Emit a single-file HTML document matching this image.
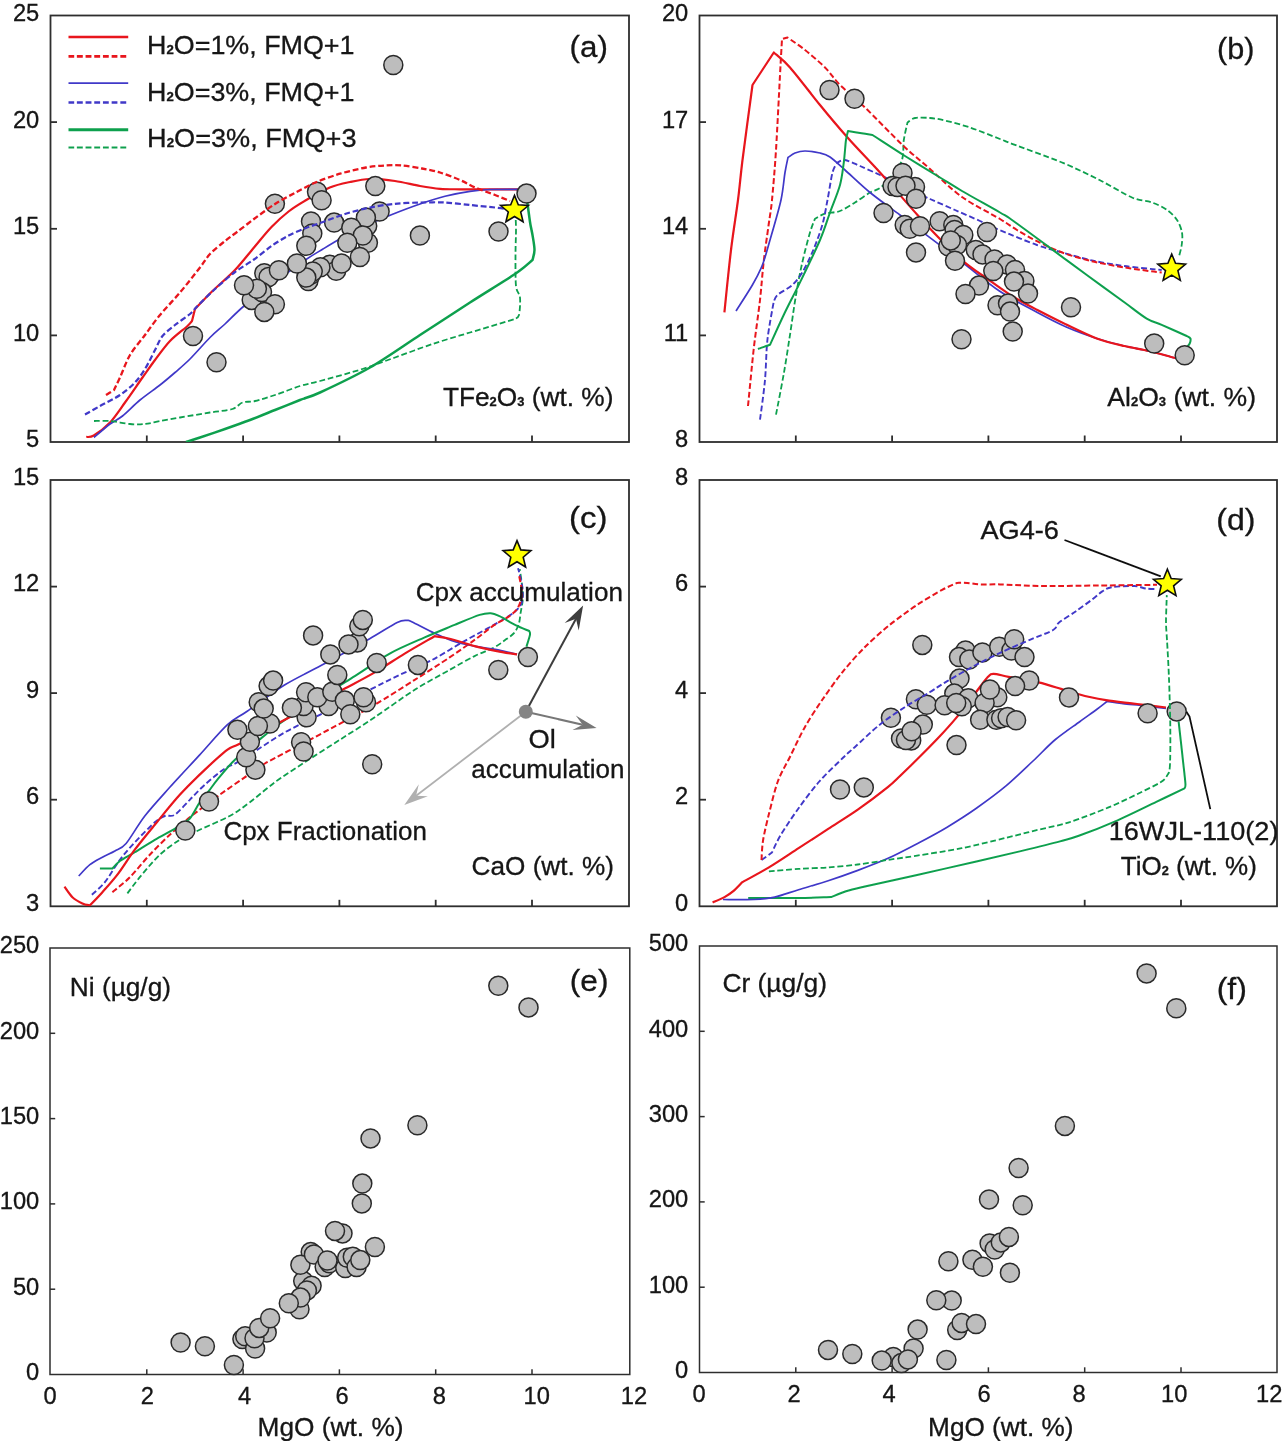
<!DOCTYPE html>
<html><head><meta charset="utf-8"><title>Chart</title>
<style>
html,body{margin:0;padding:0;background:#fff}
svg{display:block}
text{font-family:"Liberation Sans",sans-serif;fill:#141414;stroke:#141414;stroke-width:0.3px}
</style></head><body>
<svg width="1282" height="1444" viewBox="0 0 1282 1444">
<defs><clipPath id="ca"><rect x="50.5" y="15.5" width="578.5" height="426.5"/></clipPath><clipPath id="cb"><rect x="699.5" y="15.5" width="577.5" height="426.5"/></clipPath><clipPath id="cc"><rect x="50.5" y="480.0" width="578.5" height="426.3"/></clipPath><clipPath id="cd"><rect x="699.5" y="480.0" width="577.5" height="426.3"/></clipPath><filter id="bl" x="0" y="0" width="1282" height="1444" filterUnits="userSpaceOnUse"><feGaussianBlur stdDeviation="0.6"/></filter></defs>
<rect width="1282" height="1444" fill="#fff"/>
<g filter="url(#bl)">
<g stroke="#2e2e2e" stroke-width="1.8" fill="none"><rect x="50.5" y="15.5" width="578.5" height="426.5"/><line x1="146.8" y1="442.0" x2="146.8" y2="435.5"/><line x1="243.1" y1="442.0" x2="243.1" y2="435.5"/><line x1="339.4" y1="442.0" x2="339.4" y2="435.5"/><line x1="435.7" y1="442.0" x2="435.7" y2="435.5"/><line x1="532.0" y1="442.0" x2="532.0" y2="435.5"/><line x1="50.5" y1="122.1" x2="57.0" y2="122.1"/><line x1="50.5" y1="228.8" x2="57.0" y2="228.8"/><line x1="50.5" y1="335.4" x2="57.0" y2="335.4"/></g>
<g stroke="#2e2e2e" stroke-width="1.8" fill="none"><rect x="699.5" y="15.5" width="577.5" height="426.5"/><line x1="795.8" y1="442.0" x2="795.8" y2="435.5"/><line x1="892.1" y1="442.0" x2="892.1" y2="435.5"/><line x1="988.4" y1="442.0" x2="988.4" y2="435.5"/><line x1="1084.7" y1="442.0" x2="1084.7" y2="435.5"/><line x1="1181.0" y1="442.0" x2="1181.0" y2="435.5"/><line x1="699.5" y1="122.1" x2="706.0" y2="122.1"/><line x1="699.5" y1="228.8" x2="706.0" y2="228.8"/><line x1="699.5" y1="335.4" x2="706.0" y2="335.4"/></g>
<g stroke="#2e2e2e" stroke-width="1.8" fill="none"><rect x="50.5" y="480.0" width="578.5" height="426.3"/><line x1="146.8" y1="906.3" x2="146.8" y2="899.8"/><line x1="243.1" y1="906.3" x2="243.1" y2="899.8"/><line x1="339.4" y1="906.3" x2="339.4" y2="899.8"/><line x1="435.7" y1="906.3" x2="435.7" y2="899.8"/><line x1="532.0" y1="906.3" x2="532.0" y2="899.8"/><line x1="50.5" y1="586.6" x2="57.0" y2="586.6"/><line x1="50.5" y1="693.1" x2="57.0" y2="693.1"/><line x1="50.5" y1="799.7" x2="57.0" y2="799.7"/></g>
<g stroke="#2e2e2e" stroke-width="1.8" fill="none"><rect x="699.5" y="480.0" width="577.5" height="426.3"/><line x1="795.8" y1="906.3" x2="795.8" y2="899.8"/><line x1="892.1" y1="906.3" x2="892.1" y2="899.8"/><line x1="988.4" y1="906.3" x2="988.4" y2="899.8"/><line x1="1084.7" y1="906.3" x2="1084.7" y2="899.8"/><line x1="1181.0" y1="906.3" x2="1181.0" y2="899.8"/><line x1="699.5" y1="586.6" x2="706.0" y2="586.6"/><line x1="699.5" y1="693.1" x2="706.0" y2="693.1"/><line x1="699.5" y1="799.7" x2="706.0" y2="799.7"/></g>
<g stroke="#2e2e2e" stroke-width="1.5" fill="none"><rect x="50.0" y="948.0" width="579.8" height="426.5"/><line x1="146.8" y1="1374.5" x2="146.8" y2="1369.3"/><line x1="243.1" y1="1374.5" x2="243.1" y2="1369.3"/><line x1="339.4" y1="1374.5" x2="339.4" y2="1369.3"/><line x1="435.7" y1="1374.5" x2="435.7" y2="1369.3"/><line x1="532.0" y1="1374.5" x2="532.0" y2="1369.3"/><line x1="50.0" y1="1033.3" x2="55.2" y2="1033.3"/><line x1="50.0" y1="1118.6" x2="55.2" y2="1118.6"/><line x1="50.0" y1="1203.9" x2="55.2" y2="1203.9"/><line x1="50.0" y1="1289.2" x2="55.2" y2="1289.2"/></g>
<g stroke="#2e2e2e" stroke-width="1.5" fill="none"><rect x="699.5" y="946.0" width="577.5" height="426.5"/><line x1="795.8" y1="1372.5" x2="795.8" y2="1367.3"/><line x1="892.1" y1="1372.5" x2="892.1" y2="1367.3"/><line x1="988.4" y1="1372.5" x2="988.4" y2="1367.3"/><line x1="1084.7" y1="1372.5" x2="1084.7" y2="1367.3"/><line x1="1181.0" y1="1372.5" x2="1181.0" y2="1367.3"/><line x1="699.5" y1="1031.3" x2="704.7" y2="1031.3"/><line x1="699.5" y1="1116.6" x2="704.7" y2="1116.6"/><line x1="699.5" y1="1201.9" x2="704.7" y2="1201.9"/><line x1="699.5" y1="1287.2" x2="704.7" y2="1287.2"/></g>
<text transform="translate(39.3 20.9) scale(1 1)" font-size="23.7" text-anchor="end">25</text><text transform="translate(39.3 127.5) scale(1 1)" font-size="23.7" text-anchor="end">20</text><text transform="translate(39.3 234.2) scale(1 1)" font-size="23.7" text-anchor="end">15</text><text transform="translate(39.3 340.8) scale(1 1)" font-size="23.7" text-anchor="end">10</text><text transform="translate(39.3 447.4) scale(1 1)" font-size="23.7" text-anchor="end">5</text>
<text transform="translate(688.3 20.9) scale(1 1)" font-size="23.7" text-anchor="end">20</text><text transform="translate(688.3 127.5) scale(1 1)" font-size="23.7" text-anchor="end">17</text><text transform="translate(688.3 234.2) scale(1 1)" font-size="23.7" text-anchor="end">14</text><text transform="translate(688.3 340.8) scale(1 1)" font-size="23.7" text-anchor="end">11</text><text transform="translate(688.3 447.4) scale(1 1)" font-size="23.7" text-anchor="end">8</text>
<text transform="translate(39.3 484.7) scale(1 1)" font-size="23.7" text-anchor="end">15</text><text transform="translate(39.3 591.3) scale(1 1)" font-size="23.7" text-anchor="end">12</text><text transform="translate(39.3 697.9) scale(1 1)" font-size="23.7" text-anchor="end">9</text><text transform="translate(39.3 804.4) scale(1 1)" font-size="23.7" text-anchor="end">6</text><text transform="translate(39.3 911.0) scale(1 1)" font-size="23.7" text-anchor="end">3</text>
<text transform="translate(688.3 484.7) scale(1 1)" font-size="23.7" text-anchor="end">8</text><text transform="translate(688.3 591.3) scale(1 1)" font-size="23.7" text-anchor="end">6</text><text transform="translate(688.3 697.9) scale(1 1)" font-size="23.7" text-anchor="end">4</text><text transform="translate(688.3 804.4) scale(1 1)" font-size="23.7" text-anchor="end">2</text><text transform="translate(688.3 911.0) scale(1 1)" font-size="23.7" text-anchor="end">0</text>
<text transform="translate(39.3 953.4) scale(1 1)" font-size="23.7" text-anchor="end">250</text><text transform="translate(39.3 1038.7) scale(1 1)" font-size="23.7" text-anchor="end">200</text><text transform="translate(39.3 1124.0) scale(1 1)" font-size="23.7" text-anchor="end">150</text><text transform="translate(39.3 1209.3) scale(1 1)" font-size="23.7" text-anchor="end">100</text><text transform="translate(39.3 1294.6) scale(1 1)" font-size="23.7" text-anchor="end">50</text><text transform="translate(39.3 1379.9) scale(1 1)" font-size="23.7" text-anchor="end">0</text>
<text transform="translate(688.3 951.4) scale(1 1)" font-size="23.7" text-anchor="end">500</text><text transform="translate(688.3 1036.7) scale(1 1)" font-size="23.7" text-anchor="end">400</text><text transform="translate(688.3 1122.0) scale(1 1)" font-size="23.7" text-anchor="end">300</text><text transform="translate(688.3 1207.3) scale(1 1)" font-size="23.7" text-anchor="end">200</text><text transform="translate(688.3 1292.6) scale(1 1)" font-size="23.7" text-anchor="end">100</text><text transform="translate(688.3 1377.9) scale(1 1)" font-size="23.7" text-anchor="end">0</text>
<text transform="translate(50.0 1404.4) scale(1 1)" font-size="23.7" text-anchor="middle">0</text>
<text transform="translate(699.2 1402.0) scale(1 1)" font-size="23.7" text-anchor="middle">0</text>
<text transform="translate(147.3 1404.4) scale(1 1)" font-size="23.7" text-anchor="middle">2</text>
<text transform="translate(794.2 1402.0) scale(1 1)" font-size="23.7" text-anchor="middle">2</text>
<text transform="translate(244.7 1404.4) scale(1 1)" font-size="23.7" text-anchor="middle">4</text>
<text transform="translate(889.2 1402.0) scale(1 1)" font-size="23.7" text-anchor="middle">4</text>
<text transform="translate(342.0 1404.4) scale(1 1)" font-size="23.7" text-anchor="middle">6</text>
<text transform="translate(984.2 1402.0) scale(1 1)" font-size="23.7" text-anchor="middle">6</text>
<text transform="translate(439.4 1404.4) scale(1 1)" font-size="23.7" text-anchor="middle">8</text>
<text transform="translate(1079.2 1402.0) scale(1 1)" font-size="23.7" text-anchor="middle">8</text>
<text transform="translate(536.7 1404.4) scale(1 1)" font-size="23.7" text-anchor="middle">10</text>
<text transform="translate(1174.2 1402.0) scale(1 1)" font-size="23.7" text-anchor="middle">10</text>
<text transform="translate(634.0 1404.4) scale(1 1)" font-size="23.7" text-anchor="middle">12</text>
<text transform="translate(1269.2 1402.0) scale(1 1)" font-size="23.7" text-anchor="middle">12</text>
<g clip-path="url(#ca)">
<path d="M86.3 437.0C87.5 436.8 90.2 437.7 93.8 435.5C97.4 433.3 105.2 427.6 110.0 422.5C114.8 417.4 120.0 409.4 125.0 402.5C130.0 395.6 137.9 384.0 142.5 377.5C147.1 371.0 150.8 365.6 155.0 360.0C159.2 354.4 165.0 346.2 170.0 341.0C175.0 335.8 184.1 329.1 187.5 326.0C190.9 322.9 191.3 321.8 192.0 321.0C192.5 319.2 194.5 310.8 195.0 309.0C197.7 306.2 206.3 297.0 212.5 291.0C218.7 285.0 228.6 276.7 235.0 270.0C241.4 263.3 248.4 254.1 254.0 247.5C259.6 240.9 266.2 232.5 271.5 227.0C276.8 221.5 283.3 215.6 288.6 211.5C293.9 207.4 299.5 204.0 305.8 200.3C312.1 196.6 323.0 190.3 329.8 187.5C336.6 184.7 343.8 183.3 350.0 182.0C356.2 180.7 363.1 179.2 370.0 179.0C376.9 178.8 387.3 179.9 395.0 181.0C402.7 182.1 413.1 184.8 420.0 186.0C426.9 187.2 433.8 188.3 440.0 188.8C446.2 189.3 447.7 189.2 460.0 189.3C472.3 189.4 510.8 189.3 520.0 189.3" fill="none" stroke="#e8141c" stroke-width="2.2" stroke-linejoin="round"/>
<path d="M94.0 437.5C96.5 435.4 105.6 427.3 110.0 424.0C114.4 420.7 117.9 419.7 122.5 416.0C127.1 412.3 134.2 404.8 140.0 400.0C145.8 395.2 154.6 389.2 160.0 385.0C165.4 380.8 170.4 376.5 175.0 372.5C179.6 368.5 184.6 364.4 190.0 359.0C195.4 353.6 204.6 342.9 210.0 337.5C215.4 332.1 219.8 328.8 225.0 324.0C230.2 319.2 236.3 312.5 244.0 306.0C251.7 299.5 265.5 289.2 275.0 282.0C284.5 274.8 298.6 264.6 306.0 259.5C313.4 254.4 317.8 252.2 323.0 249.0C328.2 245.8 333.5 242.5 340.0 239.0C346.5 235.5 357.0 229.8 365.0 226.0C373.0 222.2 383.5 217.9 392.0 214.5C400.5 211.1 411.8 206.8 420.0 204.0C428.2 201.2 437.3 198.3 445.0 196.3C452.7 194.3 463.1 192.3 470.0 191.3C476.9 190.3 482.3 189.8 490.0 189.5C497.7 189.2 515.4 189.3 520.0 189.3" fill="none" stroke="#4038c8" stroke-width="1.7" stroke-linejoin="round"/>
<path d="M186.0 442.0C188.2 441.3 194.0 439.5 200.0 437.5C206.0 435.5 217.3 431.7 225.0 429.0C232.7 426.3 242.3 422.9 250.0 420.0C257.7 417.1 267.3 413.1 275.0 410.0C282.7 406.9 293.1 402.7 300.0 400.0C306.9 397.3 309.2 397.5 320.0 392.5C330.8 387.5 354.6 376.3 370.0 367.5C385.4 358.7 404.6 345.0 420.0 335.0C435.4 325.0 455.4 311.9 470.0 302.5C484.6 293.1 505.4 280.5 515.0 274.0C524.6 267.5 529.8 262.2 532.5 260.0C532.8 258.5 534.5 253.8 534.5 250.0C534.5 246.2 533.2 239.3 532.5 235.0C531.8 230.7 530.8 227.4 530.0 222.0C529.2 216.6 527.5 203.4 527.0 200.0" fill="none" stroke="#0ea04e" stroke-width="2.5" stroke-linejoin="round"/>
<g fill="#bdbdbd" stroke="#2a2a2a" stroke-width="1.5"><circle cx="393.3" cy="65.0" r="9.5"/><circle cx="274.9" cy="203.8" r="9.5"/><circle cx="317.0" cy="191.7" r="9.5"/><circle cx="321.6" cy="200.3" r="9.5"/><circle cx="375.3" cy="186.1" r="9.5"/><circle cx="379.6" cy="211.5" r="9.5"/><circle cx="367.2" cy="226.1" r="9.5"/><circle cx="365.9" cy="217.5" r="9.5"/><circle cx="311.0" cy="221.4" r="9.5"/><circle cx="334.1" cy="222.6" r="9.5"/><circle cx="312.3" cy="233.5" r="9.5"/><circle cx="351.3" cy="227.8" r="9.5"/><circle cx="367.9" cy="242.7" r="9.5"/><circle cx="362.8" cy="235.5" r="9.5"/><circle cx="347.3" cy="242.7" r="9.5"/><circle cx="306.3" cy="245.8" r="9.5"/><circle cx="419.9" cy="235.5" r="9.5"/><circle cx="498.5" cy="231.5" r="9.5"/><circle cx="359.9" cy="257.0" r="9.5"/><circle cx="329.8" cy="264.7" r="9.5"/><circle cx="336.2" cy="270.7" r="9.5"/><circle cx="341.5" cy="263.5" r="9.5"/><circle cx="320.4" cy="267.3" r="9.5"/><circle cx="308.4" cy="281.0" r="9.5"/><circle cx="311.0" cy="274.6" r="9.5"/><circle cx="312.7" cy="271.5" r="9.5"/><circle cx="306.3" cy="277.6" r="9.5"/><circle cx="296.9" cy="263.5" r="9.5"/><circle cx="264.3" cy="273.3" r="9.5"/><circle cx="268.6" cy="277.0" r="9.5"/><circle cx="278.9" cy="270.3" r="9.5"/><circle cx="251.7" cy="299.9" r="9.5"/><circle cx="262.0" cy="292.1" r="9.5"/><circle cx="256.9" cy="288.7" r="9.5"/><circle cx="244.0" cy="285.3" r="9.5"/><circle cx="274.9" cy="304.2" r="9.5"/><circle cx="264.3" cy="311.9" r="9.5"/><circle cx="193.0" cy="336.0" r="9.5"/><circle cx="216.5" cy="362.3" r="9.5"/><circle cx="526.5" cy="193.6" r="9.5"/></g>
<path d="M94.0 421.0C96.5 421.0 104.5 420.5 110.0 421.0C115.5 421.5 124.6 423.5 130.0 424.0C135.4 424.5 140.4 424.5 145.0 424.0C149.6 423.5 154.6 422.0 160.0 421.0C165.4 420.0 172.3 418.8 180.0 417.5C187.7 416.2 201.9 413.8 210.0 412.5C218.1 411.2 227.5 410.5 232.5 409.0C237.5 407.5 239.0 403.7 242.5 402.5C246.0 401.3 250.0 402.2 255.0 401.0C260.0 399.8 268.1 397.3 275.0 395.0C281.9 392.7 293.1 388.2 300.0 386.0C306.9 383.8 310.4 383.6 320.0 381.0C329.6 378.4 351.0 372.6 362.5 369.0C374.0 365.4 384.2 361.3 395.0 357.5C405.8 353.7 421.0 347.8 432.5 344.0C444.0 340.2 457.3 336.3 470.0 332.5C482.7 328.7 508.1 321.1 515.0 319.0C515.6 318.4 518.2 318.3 519.0 315.0C519.8 311.7 520.5 302.0 520.0 297.5C519.5 293.0 516.7 292.5 516.0 286.0C515.3 279.5 515.5 263.6 515.5 255.0C515.5 246.4 516.0 236.2 516.0 230.0C516.0 223.8 515.6 217.3 515.5 215.0" fill="none" stroke="#0ea04e" stroke-width="1.8" stroke-linejoin="round" stroke-dasharray="5.8 2.8"/>
<path d="M85.0 414.5C87.3 413.2 94.6 409.0 100.0 406.0C105.4 403.0 114.6 398.6 120.0 395.0C125.4 391.4 131.2 386.5 135.0 382.5C138.8 378.5 141.9 374.0 145.0 369.0C148.1 364.0 152.3 355.1 155.0 350.0C157.7 344.9 159.4 339.8 162.5 336.0C165.6 332.2 170.8 328.4 175.0 325.0C179.2 321.6 186.5 316.9 190.0 314.0C193.5 311.1 193.7 309.8 197.5 306.0C201.3 302.2 209.2 294.2 215.0 289.0C220.8 283.8 229.0 276.5 235.0 272.0C241.0 267.5 248.4 263.5 254.0 259.5C259.6 255.5 266.2 249.7 271.5 246.0C276.8 242.3 283.3 238.3 288.6 235.5C293.9 232.7 300.7 230.1 306.0 228.0C311.3 225.9 317.0 224.2 323.0 222.0C329.0 219.8 337.8 216.2 345.0 214.0C352.2 211.8 362.3 209.1 370.0 207.5C377.7 205.9 387.3 204.6 395.0 203.8C402.7 203.0 412.3 202.7 420.0 202.5C427.7 202.3 437.3 202.1 445.0 202.5C452.7 202.9 462.3 204.2 470.0 205.0C477.7 205.8 489.6 206.9 495.0 207.5C500.4 208.1 503.5 208.6 505.0 208.8" fill="none" stroke="#4038c8" stroke-width="2.2" stroke-linejoin="round" stroke-dasharray="5.8 2.8"/>
<path d="M106.0 395.0C107.2 394.2 112.8 390.8 114.0 390.0C114.9 388.1 117.5 382.9 120.0 377.5C122.5 372.1 126.2 361.5 130.0 355.0C133.8 348.5 140.4 341.2 145.0 335.0C149.6 328.8 154.6 321.5 160.0 315.0C165.4 308.5 173.8 299.8 180.0 292.5C186.2 285.2 195.4 273.4 200.0 267.5C204.6 261.6 206.2 258.1 210.0 254.0C213.8 249.9 220.8 244.4 225.0 241.0C229.2 237.6 232.5 235.4 237.0 232.0C241.5 228.6 248.2 223.3 254.0 219.0C259.8 214.7 268.6 208.1 275.0 204.0C281.4 199.9 289.2 195.9 295.5 192.6C301.8 189.3 309.2 185.2 316.0 182.3C322.8 179.4 332.3 176.0 340.0 173.7C347.7 171.4 359.1 168.8 366.0 167.5C372.9 166.2 379.5 165.8 385.0 165.5C390.5 165.2 396.3 165.0 402.0 165.5C407.7 166.0 416.2 167.4 422.0 168.5C427.8 169.6 434.2 170.7 440.0 172.5C445.8 174.3 454.6 177.7 460.0 180.0C465.4 182.3 469.6 185.2 475.0 187.5C480.4 189.8 489.6 192.9 495.0 195.0C500.4 197.1 507.7 200.1 510.0 201.0" fill="none" stroke="#e8141c" stroke-width="2.3" stroke-linejoin="round" stroke-dasharray="5.8 2.8"/>
<polygon points="514.5,195.4 518.3,204.7 528.4,205.5 520.7,212.0 523.1,221.8 514.5,216.5 505.9,221.8 508.3,212.0 500.6,205.5 510.7,204.7" fill="#ffff00" stroke="#111" stroke-width="1.6" stroke-linejoin="miter"/>
</g>
<path d="M68.5 37.0C77.7 37.0 119.0 37.0 128.2 37.0" fill="none" stroke="#e8141c" stroke-width="2.4" stroke-linejoin="round"/>
<path d="M68.5 56.3C77.7 56.3 119.0 56.3 128.2 56.3" fill="none" stroke="#e8141c" stroke-width="2.7" stroke-linejoin="round" stroke-dasharray="5.8 2.8"/>
<path d="M68.5 83.1C77.7 83.1 119.0 83.1 128.2 83.1" fill="none" stroke="#4038c8" stroke-width="1.9" stroke-linejoin="round"/>
<path d="M68.5 102.5C77.7 102.5 119.0 102.5 128.2 102.5" fill="none" stroke="#4038c8" stroke-width="2.6" stroke-linejoin="round" stroke-dasharray="5.8 2.8"/>
<path d="M68.5 129.7C77.7 129.7 119.0 129.7 128.2 129.7" fill="none" stroke="#0ea04e" stroke-width="3.0" stroke-linejoin="round"/>
<path d="M68.5 147.4C77.7 147.4 119.0 147.4 128.2 147.4" fill="none" stroke="#0ea04e" stroke-width="2.0" stroke-linejoin="round" stroke-dasharray="5.8 2.8"/>
<text x="147.1" y="53.6" font-size="25.5" text-anchor="start" textLength="207.4" lengthAdjust="spacingAndGlyphs">H<tspan font-size="12.5" font-weight="bold">2</tspan>O=1%, FMQ+1</text>
<text x="147.1" y="100.5" font-size="25.5" text-anchor="start" textLength="207.4" lengthAdjust="spacingAndGlyphs">H<tspan font-size="12.5" font-weight="bold">2</tspan>O=3%, FMQ+1</text>
<text x="147.1" y="147.2" font-size="25.5" text-anchor="start" textLength="209.4" lengthAdjust="spacingAndGlyphs">H<tspan font-size="12.5" font-weight="bold">2</tspan>O=3%, FMQ+3</text>
<text x="442.9" y="406.1" font-size="25.5" text-anchor="start" textLength="170.6" lengthAdjust="spacingAndGlyphs">TFe<tspan font-size="12.5" font-weight="bold">2</tspan>O<tspan font-size="12.5" font-weight="bold">3</tspan> (wt. %)</text>
<text x="569.6" y="56.7" font-size="30" text-anchor="start" textLength="38.3" lengthAdjust="spacingAndGlyphs">(a)</text>
<g clip-path="url(#cb)">
<path d="M776.0 414.7C777.2 408.5 781.4 387.0 783.6 374.7C785.8 362.4 788.1 347.1 790.0 334.8C791.9 322.5 794.1 306.1 796.0 295.0C797.9 283.9 800.1 272.0 802.3 262.4C804.5 252.8 808.0 239.2 810.0 232.5C812.0 225.8 814.2 220.8 815.0 218.7C816.5 217.9 821.2 214.9 825.0 213.7C828.8 212.5 835.4 212.7 840.0 211.0C844.6 209.3 850.4 205.3 855.0 202.5C859.6 199.7 865.8 195.0 870.0 192.5C874.2 190.0 877.7 190.6 882.5 186.0C887.3 181.4 897.7 169.6 901.0 162.5C904.3 155.4 902.8 146.2 903.8 140.0C904.8 133.8 906.9 125.2 907.5 122.5C908.7 121.8 911.5 118.7 915.0 118.0C918.5 117.3 925.4 117.6 930.0 118.0C934.6 118.4 938.8 119.0 945.0 120.5C951.2 122.0 961.5 124.7 970.0 127.5C978.5 130.3 993.5 136.5 1000.0 139.0C1006.5 141.5 1002.5 140.1 1012.0 143.8C1021.5 147.4 1048.5 156.9 1062.0 162.5C1075.5 168.1 1088.7 174.6 1099.5 180.0C1110.3 185.4 1123.9 194.0 1132.0 197.5C1140.1 201.0 1146.6 200.6 1152.0 202.5C1157.4 204.4 1163.2 207.3 1167.0 210.0C1170.8 212.7 1174.7 216.5 1177.0 220.0C1179.3 223.5 1181.3 228.7 1182.0 232.5C1182.7 236.3 1182.2 241.2 1181.7 245.0C1181.2 248.8 1179.2 255.5 1178.7 257.4" fill="none" stroke="#0ea04e" stroke-width="1.8" stroke-linejoin="round" stroke-dasharray="5.8 2.8"/>
<path d="M760.0 419.7C760.8 413.6 763.9 392.3 765.0 380.0C766.1 367.7 766.1 351.9 767.4 340.0C768.7 328.1 772.6 308.2 773.6 302.4C774.2 301.3 774.5 297.7 777.4 295.0C780.3 292.3 788.5 288.5 792.3 285.0C796.1 281.5 799.2 277.4 802.3 272.4C805.4 267.4 809.2 259.7 812.3 252.4C815.4 245.1 820.0 233.1 822.3 225.0C824.6 216.9 825.9 208.1 827.5 200.0C829.1 191.9 831.0 178.3 832.5 172.5C834.0 166.7 836.7 164.0 837.5 162.5C838.7 162.1 841.5 159.5 845.0 160.0C848.5 160.5 854.6 163.7 860.0 166.0C865.4 168.3 873.1 171.8 880.0 175.0C886.9 178.2 897.3 183.3 905.0 187.0C912.7 190.7 922.3 195.5 930.0 199.0C937.7 202.5 947.3 206.6 955.0 210.0C962.7 213.4 973.2 217.9 980.0 221.0C986.8 224.1 990.6 226.3 999.4 230.0C1008.2 233.7 1027.3 241.6 1036.9 245.0C1046.5 248.4 1053.5 250.0 1061.9 252.4C1070.3 254.8 1082.2 258.3 1091.8 260.4C1101.4 262.5 1113.5 264.5 1124.3 266.0C1135.1 267.5 1155.9 269.4 1161.7 270.0" fill="none" stroke="#4038c8" stroke-width="1.9" stroke-linejoin="round" stroke-dasharray="5.8 2.8"/>
<path d="M748.0 406.0C748.9 397.4 751.8 366.3 753.6 350.0C755.4 333.7 758.5 313.5 760.0 300.0C761.5 286.5 762.3 273.9 763.6 262.4C764.9 250.9 767.3 234.6 768.6 225.0C769.9 215.4 770.9 211.5 772.0 200.0C773.1 188.5 774.8 169.2 776.0 150.0C777.2 130.8 779.1 92.1 780.0 75.0C780.9 57.9 781.7 44.5 782.0 39.0C782.8 38.8 786.7 37.7 787.5 37.5C790.2 39.4 799.2 45.4 805.0 50.0C810.8 54.6 819.6 62.1 825.0 67.5C830.4 72.9 833.8 78.8 840.0 85.0C846.2 91.2 855.4 98.3 865.0 107.5C874.6 116.7 892.5 135.5 902.5 145.0C912.5 154.5 920.8 161.0 930.0 169.0C939.2 177.0 951.2 189.3 962.0 197.0C972.8 204.7 991.5 213.9 1000.0 219.0C1008.5 224.1 1011.3 226.6 1017.0 230.0C1022.7 233.4 1030.0 237.8 1036.9 241.2C1043.8 244.6 1053.5 249.3 1061.9 252.4C1070.3 255.5 1082.2 258.9 1091.8 261.2C1101.4 263.5 1115.5 265.9 1124.3 267.4C1133.1 268.9 1143.4 270.2 1149.2 271.0C1155.0 271.8 1159.8 272.2 1161.7 272.4" fill="none" stroke="#e8141c" stroke-width="2.0" stroke-linejoin="round" stroke-dasharray="5.8 2.8"/>
<path d="M736.0 311.0C738.5 307.0 748.3 292.1 752.4 285.0C756.5 277.9 759.7 271.9 762.4 265.0C765.1 258.1 767.1 250.0 770.0 240.0C772.9 230.0 778.7 210.4 781.0 200.0C783.3 189.6 783.9 179.0 785.0 172.5C786.1 166.0 787.5 159.8 788.0 157.5C789.1 156.8 792.4 154.0 795.0 153.0C797.6 152.0 801.2 151.0 805.0 151.0C808.8 151.0 816.2 152.1 820.0 153.0C823.8 153.9 826.2 154.4 830.0 157.0C833.8 159.6 838.8 164.5 845.0 170.0C851.2 175.5 861.5 185.6 870.0 192.5C878.5 199.4 890.8 208.1 900.0 215.0C909.2 221.9 920.1 230.2 929.6 237.4C939.1 244.6 951.3 253.8 962.0 262.0C972.7 270.2 987.9 283.3 999.4 291.0C1010.9 298.7 1026.5 306.7 1036.9 312.3C1047.3 317.9 1057.6 323.3 1066.8 327.3C1076.0 331.3 1088.0 335.6 1096.8 338.5C1105.6 341.4 1116.2 344.1 1124.3 346.0C1132.4 347.9 1141.5 349.2 1149.2 351.0C1156.9 352.8 1168.8 356.4 1174.2 357.8C1179.6 359.2 1182.5 359.7 1184.0 360.0" fill="none" stroke="#4038c8" stroke-width="1.7" stroke-linejoin="round"/>
<path d="M724.4 312.3C725.4 302.7 728.9 267.3 731.0 250.0C733.1 232.7 736.2 213.8 738.0 200.0C739.8 186.2 740.3 177.7 742.5 160.0C744.7 142.3 751.0 96.5 752.5 85.0C755.8 80.0 770.5 57.5 773.8 52.5C776.2 54.8 782.9 59.4 790.0 67.5C797.1 75.6 811.2 94.2 820.0 105.0C828.8 115.8 838.3 127.1 847.5 137.5C856.7 147.9 869.2 160.6 880.0 172.5C890.8 184.4 908.3 204.8 917.5 215.0C926.7 225.2 932.8 231.7 940.0 239.0C947.2 246.3 957.4 256.3 964.6 262.4C971.8 268.5 979.7 273.4 987.0 278.6C994.3 283.8 1004.3 291.2 1012.0 296.0C1019.7 300.8 1028.5 305.4 1036.9 309.8C1045.3 314.2 1057.6 320.4 1066.8 324.8C1076.0 329.2 1088.0 335.2 1096.8 338.5C1105.6 341.8 1116.2 344.1 1124.3 346.0C1132.4 347.9 1141.5 349.2 1149.2 351.0C1156.9 352.8 1168.8 356.4 1174.2 357.8C1179.6 359.2 1182.5 359.7 1184.0 360.0" fill="none" stroke="#e8141c" stroke-width="2.2" stroke-linejoin="round"/>
<path d="M757.9 349.0C759.8 348.4 768.1 345.4 770.0 344.8C772.3 339.8 780.4 321.9 785.0 312.3C789.6 302.7 794.6 293.5 800.0 282.4C805.4 271.3 815.4 250.8 820.0 240.0C824.6 229.2 826.9 221.0 830.0 212.5C833.1 204.0 837.9 192.7 840.0 185.0C842.1 177.3 842.8 169.4 843.8 162.5C844.7 155.6 845.3 144.8 846.0 140.0C846.7 135.2 847.7 132.4 848.0 131.0C849.8 131.3 856.2 132.4 860.0 133.0C863.8 133.6 870.6 134.7 872.5 135.0C877.5 138.2 894.6 149.5 905.0 156.0C915.4 162.5 931.2 172.1 940.0 177.5C948.8 182.9 952.8 185.6 962.0 191.0C971.2 196.4 992.3 208.0 1000.0 212.5C1007.7 217.0 1004.4 214.6 1012.0 220.0C1019.6 225.4 1037.9 238.9 1049.4 247.4C1060.9 255.9 1075.3 266.6 1086.8 275.0C1098.3 283.4 1115.1 295.6 1124.3 302.3C1133.5 309.0 1140.9 315.1 1146.7 318.6C1152.5 322.1 1155.5 322.1 1161.7 324.8C1167.9 327.5 1182.9 334.3 1186.7 336.0C1187.3 336.4 1189.9 337.3 1190.4 338.5C1190.9 339.7 1190.3 342.1 1189.7 343.5C1189.1 344.9 1187.2 346.7 1186.7 347.3" fill="none" stroke="#0ea04e" stroke-width="2.0" stroke-linejoin="round"/>
<g fill="#bdbdbd" stroke="#2a2a2a" stroke-width="1.5"><circle cx="829.5" cy="90.0" r="9.5"/><circle cx="854.5" cy="98.8" r="9.5"/><circle cx="902.5" cy="173.0" r="9.5"/><circle cx="892.5" cy="186.0" r="9.5"/><circle cx="897.5" cy="187.0" r="9.5"/><circle cx="915.0" cy="187.0" r="9.5"/><circle cx="905.5" cy="185.8" r="9.5"/><circle cx="916.0" cy="198.8" r="9.5"/><circle cx="883.5" cy="213.0" r="9.5"/><circle cx="904.7" cy="225.0" r="9.5"/><circle cx="909.7" cy="228.7" r="9.5"/><circle cx="920.0" cy="226.2" r="9.5"/><circle cx="939.6" cy="221.2" r="9.5"/><circle cx="953.3" cy="225.0" r="9.5"/><circle cx="954.6" cy="230.0" r="9.5"/><circle cx="963.3" cy="235.0" r="9.5"/><circle cx="987.0" cy="232.0" r="9.5"/><circle cx="916.0" cy="252.4" r="9.5"/><circle cx="948.3" cy="246.2" r="9.5"/><circle cx="957.0" cy="245.0" r="9.5"/><circle cx="950.8" cy="240.4" r="9.5"/><circle cx="955.0" cy="260.7" r="9.5"/><circle cx="975.8" cy="250.0" r="9.5"/><circle cx="982.5" cy="254.4" r="9.5"/><circle cx="994.5" cy="259.5" r="9.5"/><circle cx="1007.0" cy="264.4" r="9.5"/><circle cx="993.3" cy="271.0" r="9.5"/><circle cx="1015.0" cy="270.0" r="9.5"/><circle cx="1024.4" cy="281.0" r="9.5"/><circle cx="1028.0" cy="293.6" r="9.5"/><circle cx="1014.0" cy="281.6" r="9.5"/><circle cx="979.0" cy="285.6" r="9.5"/><circle cx="965.5" cy="294.0" r="9.5"/><circle cx="997.5" cy="305.3" r="9.5"/><circle cx="1008.0" cy="303.6" r="9.5"/><circle cx="1010.0" cy="311.6" r="9.5"/><circle cx="1012.7" cy="331.5" r="9.5"/><circle cx="961.5" cy="339.3" r="9.5"/><circle cx="1071.0" cy="307.3" r="9.5"/><circle cx="1154.2" cy="343.5" r="9.5"/><circle cx="1184.7" cy="355.3" r="9.5"/></g>
<polygon points="1171.7,254.0 1175.5,263.3 1185.6,264.1 1177.9,270.6 1180.3,280.4 1171.7,275.1 1163.1,280.4 1165.5,270.6 1157.8,264.1 1167.9,263.3" fill="#ffff00" stroke="#111" stroke-width="1.6" stroke-linejoin="miter"/>
</g>
<text x="1107.3" y="406.1" font-size="25.5" text-anchor="start" textLength="148.7" lengthAdjust="spacingAndGlyphs">Al<tspan font-size="12.5" font-weight="bold">2</tspan>O<tspan font-size="12.5" font-weight="bold">3</tspan> (wt. %)</text>
<text x="1217.1" y="58.6" font-size="30" text-anchor="start" textLength="37.4" lengthAdjust="spacingAndGlyphs">(b)</text>
<g clip-path="url(#cc)">
<path d="M127.4 893.4C129.3 890.9 134.8 883.2 139.8 877.2C144.8 871.2 153.6 860.5 159.8 854.7C166.0 848.9 173.7 843.6 179.8 839.8C185.9 836.0 192.0 833.5 199.7 829.8C207.4 826.1 222.0 820.2 229.7 816.0C237.4 811.8 242.9 807.4 249.9 802.2C256.9 797.0 266.5 788.4 274.9 782.2C283.3 776.0 294.8 768.7 304.8 762.2C314.8 755.7 329.0 746.7 339.8 739.8C350.6 732.9 363.2 725.0 374.7 717.3C386.2 709.6 403.2 697.1 414.7 689.8C426.2 682.5 440.4 675.1 449.6 669.9C458.8 664.7 467.8 659.5 474.6 656.1C481.4 652.7 489.0 650.2 493.6 647.8C498.2 645.4 501.6 642.6 504.8 640.3C508.0 638.0 512.0 635.5 514.2 632.9C516.4 630.3 517.9 626.7 518.9 623.5C519.9 620.3 520.1 615.8 520.7 612.3C521.3 608.8 522.3 604.5 522.6 601.0C522.9 597.5 523.0 594.7 522.6 589.8C522.2 584.9 520.2 572.4 519.8 569.2" fill="none" stroke="#0ea04e" stroke-width="1.8" stroke-linejoin="round" stroke-dasharray="5.8 2.8"/>
<path d="M91.9 894.7C93.9 892.8 100.6 887.6 104.9 882.2C109.2 876.8 115.3 865.8 119.9 859.7C124.5 853.6 129.4 848.1 134.8 842.3C140.2 836.5 150.2 826.3 154.8 822.3C159.4 818.3 161.7 817.2 164.8 816.0C167.9 814.8 171.0 817.3 174.8 814.8C178.6 812.3 185.2 804.4 189.8 799.8C194.4 795.2 199.3 789.6 204.7 784.8C210.1 780.0 219.7 772.0 224.7 768.6C229.7 765.2 232.2 765.3 237.2 762.4C242.2 759.5 250.1 754.3 257.4 749.7C264.7 745.1 275.3 737.7 284.9 732.3C294.5 726.9 306.0 721.7 319.8 714.8C333.6 707.9 362.4 693.4 374.7 687.3C387.0 681.2 390.9 679.1 399.7 674.9C408.5 670.7 422.6 664.9 432.2 659.9C441.8 654.9 453.7 647.2 462.1 642.4C470.5 637.6 481.1 632.0 487.1 628.7C493.1 625.4 496.8 623.2 501.0 620.7C505.2 618.2 511.0 615.0 514.2 612.3C517.4 609.6 520.4 606.4 521.7 602.9C523.0 599.4 522.9 594.1 522.6 589.8C522.3 585.5 520.5 578.1 519.8 574.8C519.1 571.5 518.3 569.3 518.0 568.3" fill="none" stroke="#4038c8" stroke-width="1.9" stroke-linejoin="round" stroke-dasharray="5.8 2.8"/>
<path d="M112.4 892.2C115.1 889.9 124.1 883.0 129.9 877.2C135.7 871.4 143.7 861.2 149.8 854.7C155.9 848.2 163.6 840.6 169.8 834.8C176.0 829.0 182.1 823.5 189.8 817.3C197.5 811.1 211.3 800.9 219.7 794.8C228.1 788.7 237.7 782.2 244.7 777.4C251.7 772.6 254.9 769.3 264.9 763.5C274.9 757.7 297.5 746.3 309.8 739.8C322.1 733.3 334.8 726.4 344.8 721.0C354.8 715.6 363.9 711.1 374.7 704.8C385.5 698.5 403.2 687.2 414.7 679.9C426.2 672.6 440.4 663.6 449.6 657.4C458.8 651.2 467.8 644.8 474.6 639.9C481.4 635.0 488.7 628.8 493.6 625.4C498.5 622.0 503.3 620.2 506.7 617.9C510.1 615.6 513.8 613.0 516.0 610.4C518.2 607.8 519.8 604.2 520.7 601.0C521.6 597.8 522.0 593.8 521.7 589.8C521.4 585.8 519.3 577.1 518.9 574.8" fill="none" stroke="#e8141c" stroke-width="2.0" stroke-linejoin="round" stroke-dasharray="5.8 2.8"/>
<path d="M78.7 876.0C80.4 874.3 86.3 867.6 89.9 864.7C93.5 861.8 98.6 859.3 102.4 857.2C106.2 855.1 111.3 853.1 114.9 851.0C118.5 848.9 121.5 848.9 126.1 843.5C130.7 838.1 138.1 824.6 144.8 816.0C151.5 807.4 161.4 796.7 169.8 787.3C178.2 777.9 190.9 764.5 199.7 754.9C208.5 745.3 219.9 731.6 227.2 724.9C234.5 718.2 238.3 717.4 247.2 711.2C256.1 705.0 273.0 692.1 284.9 684.8C296.8 677.5 311.8 670.7 324.8 663.6C337.8 656.5 358.6 645.0 369.7 638.7C380.8 632.4 391.4 625.2 397.2 622.4C403.0 619.6 404.9 620.5 407.2 620.4C409.5 620.3 408.0 619.9 412.2 621.9C416.4 623.9 427.9 630.1 434.6 633.2C441.3 636.3 449.2 639.9 456.0 642.0C462.8 644.1 471.7 645.6 478.6 646.9C485.5 648.2 495.1 649.3 501.0 650.5C506.9 651.7 514.5 653.8 517.0 654.4" fill="none" stroke="#4038c8" stroke-width="1.7" stroke-linejoin="round"/>
<path d="M99.9 868.5C101.8 868.5 110.5 868.5 112.4 868.5C113.6 867.3 116.5 863.5 119.9 861.0C123.3 858.5 129.4 855.5 134.8 852.2C140.2 848.9 148.3 843.6 154.8 839.8C161.3 836.0 171.9 830.6 177.3 827.3C182.7 824.0 186.4 822.3 189.8 818.5C193.2 814.7 196.6 806.7 199.7 802.3C202.8 797.9 207.0 793.2 209.7 789.8C212.4 786.4 213.4 784.5 217.2 779.9C221.0 775.3 227.8 766.4 234.7 759.9C241.6 753.4 254.5 743.6 262.2 737.4C269.9 731.2 270.7 729.2 284.9 719.8C299.1 710.4 338.7 686.3 354.8 676.1C370.9 665.9 378.9 659.6 389.7 653.6C400.5 647.6 414.7 641.8 424.7 637.4C434.7 633.0 446.2 628.4 454.6 624.9C463.0 621.4 474.0 616.7 479.6 614.9C485.2 613.1 487.7 613.0 490.8 613.2C493.9 613.4 495.6 614.3 499.5 616.2C503.4 618.1 511.4 623.1 516.0 625.4C520.6 627.7 527.2 630.1 529.2 631.0C529.3 631.6 530.4 632.3 530.0 634.7C529.6 637.1 527.0 644.9 526.4 646.8" fill="none" stroke="#0ea04e" stroke-width="2.0" stroke-linejoin="round"/>
<path d="M64.5 886.7C65.7 888.3 69.6 894.6 72.4 897.2C75.2 899.8 79.7 902.1 82.4 903.4C85.1 904.7 88.7 905.1 89.9 905.4C91.8 903.4 98.2 896.9 102.4 892.2C106.6 887.5 112.4 881.2 117.4 874.7C122.4 868.2 129.0 857.4 134.8 849.7C140.6 842.0 147.9 833.2 154.8 824.8C161.7 816.4 172.1 803.2 179.8 794.8C187.5 786.4 197.4 776.8 204.7 769.9C212.0 763.0 221.8 753.9 227.2 749.9C232.6 745.9 231.2 748.1 239.7 743.7C248.2 739.3 266.2 729.5 282.4 721.0C298.6 712.5 330.6 696.1 344.8 688.6C359.0 681.1 365.5 677.8 374.7 672.4C383.9 667.0 395.5 659.2 404.7 653.6C413.9 648.0 430.0 638.9 434.6 636.2C436.9 636.6 443.4 637.2 449.6 638.7C455.8 640.2 466.9 644.1 474.6 646.1C482.3 648.1 493.0 650.3 499.5 651.6C506.0 652.9 514.3 654.0 517.0 654.4" fill="none" stroke="#e8141c" stroke-width="2.2" stroke-linejoin="round"/>
<g fill="#bdbdbd" stroke="#2a2a2a" stroke-width="1.5"><circle cx="185.3" cy="830.5" r="9.5"/><circle cx="209.0" cy="801.5" r="9.5"/><circle cx="255.4" cy="769.7" r="9.5"/><circle cx="246.2" cy="757.2" r="9.5"/><circle cx="249.9" cy="741.8" r="9.5"/><circle cx="237.4" cy="729.8" r="9.5"/><circle cx="269.9" cy="723.5" r="9.5"/><circle cx="257.9" cy="726.0" r="9.5"/><circle cx="258.7" cy="702.3" r="9.5"/><circle cx="263.7" cy="708.6" r="9.5"/><circle cx="268.6" cy="686.1" r="9.5"/><circle cx="273.1" cy="680.6" r="9.5"/><circle cx="313.1" cy="635.4" r="9.5"/><circle cx="306.6" cy="717.3" r="9.5"/><circle cx="303.6" cy="706.1" r="9.5"/><circle cx="306.1" cy="692.3" r="9.5"/><circle cx="328.6" cy="706.1" r="9.5"/><circle cx="317.3" cy="697.3" r="9.5"/><circle cx="291.9" cy="707.8" r="9.5"/><circle cx="332.3" cy="691.8" r="9.5"/><circle cx="344.8" cy="700.6" r="9.5"/><circle cx="350.3" cy="714.3" r="9.5"/><circle cx="366.0" cy="702.3" r="9.5"/><circle cx="363.5" cy="697.3" r="9.5"/><circle cx="337.3" cy="674.9" r="9.5"/><circle cx="330.3" cy="654.4" r="9.5"/><circle cx="357.3" cy="642.4" r="9.5"/><circle cx="348.5" cy="644.4" r="9.5"/><circle cx="359.3" cy="626.2" r="9.5"/><circle cx="362.8" cy="619.9" r="9.5"/><circle cx="376.7" cy="662.9" r="9.5"/><circle cx="417.9" cy="664.9" r="9.5"/><circle cx="498.3" cy="670.0" r="9.5"/><circle cx="527.9" cy="657.1" r="9.5"/><circle cx="301.1" cy="742.3" r="9.5"/><circle cx="303.6" cy="751.5" r="9.5"/><circle cx="372.2" cy="764.2" r="9.5"/></g>
<polygon points="517.0,540.6 520.8,549.9 530.9,550.7 523.2,557.2 525.6,567.0 517.0,561.7 508.4,567.0 510.8,557.2 503.1,550.7 513.2,549.9" fill="#ffff00" stroke="#111" stroke-width="1.6" stroke-linejoin="miter"/>
</g>
<line x1="525.8" y1="711.8" x2="416.1" y2="795.8" stroke="#b0b0b0" stroke-width="1.8"/><polygon points="404.3,804.9 418.8,784.3 416.1,795.8 427.9,796.3" fill="#b0b0b0"/>
<line x1="525.8" y1="711.8" x2="576.0" y2="618.7" stroke="#3c3c3c" stroke-width="2.0"/><polygon points="583.1,605.6 578.7,630.5 576.0,618.7 564.7,622.9" fill="#3c3c3c"/>
<line x1="525.8" y1="711.8" x2="582.7" y2="724.7" stroke="#777" stroke-width="2.0"/><polygon points="596.6,727.9 572.5,730.1 582.7,724.7 575.8,715.5" fill="#777"/>
<circle cx="525.8" cy="711.8" r="7" fill="#858585"/>
<text x="415.7" y="601.0" font-size="25.5" text-anchor="start" textLength="207.2" lengthAdjust="spacingAndGlyphs">Cpx accumulation</text>
<text x="528.6" y="748.0" font-size="25.5" text-anchor="start" textLength="27.3" lengthAdjust="spacingAndGlyphs">Ol</text>
<text x="471.3" y="778.3" font-size="25.5" text-anchor="start" textLength="153.1" lengthAdjust="spacingAndGlyphs">accumulation</text>
<text x="223.4" y="839.7" font-size="25.5" text-anchor="start" textLength="203.6" lengthAdjust="spacingAndGlyphs">Cpx Fractionation</text>
<text x="471.6" y="875.0" font-size="25.5" text-anchor="start" textLength="142.4" lengthAdjust="spacingAndGlyphs">CaO (wt. %)</text>
<text x="569.1" y="528.2" font-size="30" text-anchor="start" textLength="38.4" lengthAdjust="spacingAndGlyphs">(c)</text>
<g clip-path="url(#cd)">
<path d="M748.2 898.0C756.0 898.0 785.8 898.1 798.6 898.0C811.4 897.9 826.2 897.2 831.2 897.1C833.5 896.2 841.0 892.8 846.0 891.2C851.0 889.6 852.9 889.2 863.8 886.7C874.7 884.2 899.8 878.8 917.1 874.9C934.4 871.0 960.4 865.2 976.4 861.5C992.4 857.8 1007.9 854.2 1020.8 851.1C1033.7 848.0 1051.1 843.8 1060.0 841.4C1068.9 839.0 1069.9 839.0 1078.8 835.8C1087.7 832.6 1105.7 825.5 1117.6 820.3C1129.5 815.1 1146.0 806.8 1156.3 801.9C1166.6 797.0 1180.2 790.4 1184.5 788.3C1184.6 787.6 1185.7 788.4 1185.4 783.5C1185.1 778.6 1183.5 765.9 1182.5 756.3C1181.5 746.7 1179.2 726.8 1178.6 721.4" fill="none" stroke="#0ea04e" stroke-width="2.0" stroke-linejoin="round"/>
<path d="M723.0 899.5C727.8 899.5 746.1 899.9 754.1 899.5C762.1 899.1 768.0 898.6 774.8 897.1C781.6 895.6 790.4 892.2 798.6 889.7C806.8 887.2 819.1 883.8 828.2 880.8C837.3 877.8 848.7 873.8 857.8 870.4C866.9 867.0 878.4 862.7 887.5 858.6C896.6 854.5 908.0 848.5 917.1 843.7C926.2 838.9 937.6 832.9 946.7 827.4C955.8 821.9 967.3 814.6 976.4 808.2C985.5 801.8 997.3 793.2 1006.0 785.9C1014.7 778.6 1025.4 768.1 1033.0 761.0C1040.6 753.9 1048.2 745.5 1055.4 739.5C1062.6 733.5 1073.4 726.3 1079.7 721.7C1086.0 717.1 1092.4 712.6 1096.6 709.5C1100.8 706.4 1105.3 702.7 1106.9 701.5C1109.6 701.9 1120.0 703.4 1124.6 703.9C1129.2 704.4 1130.6 704.3 1137.0 705.0C1143.4 705.7 1161.5 707.8 1166.0 708.3" fill="none" stroke="#4038c8" stroke-width="1.7" stroke-linejoin="round"/>
<path d="M712.6 902.4C714.4 901.6 721.3 898.8 724.5 897.1C727.7 895.4 730.6 893.5 733.3 891.2C736.0 888.9 740.8 883.7 742.2 882.3C746.3 880.0 760.2 872.6 768.9 867.4C777.6 862.2 789.5 854.1 798.6 848.2C807.7 842.3 819.1 834.8 828.2 828.9C837.3 823.0 848.7 816.1 857.8 809.7C866.9 803.3 881.0 792.6 887.5 787.4C894.0 782.2 895.2 780.6 900.0 776.0C904.8 771.4 912.9 763.5 918.7 757.8C924.5 752.1 931.6 744.9 937.4 738.8C943.2 732.7 950.4 724.9 956.2 717.9C962.0 710.9 970.0 699.9 974.9 693.6C979.8 687.3 985.1 679.8 988.0 676.8C990.9 673.8 990.4 673.9 993.6 673.9C996.8 673.9 1001.7 675.5 1008.6 676.8C1015.5 678.1 1030.4 680.5 1038.5 682.4C1046.6 684.3 1054.7 687.0 1061.0 688.9C1067.3 690.8 1075.1 693.2 1079.7 694.5C1084.3 695.8 1086.9 696.4 1090.9 697.3C1094.9 698.2 1100.7 699.3 1105.9 700.1C1111.1 700.9 1119.8 702.0 1124.6 702.6C1129.4 703.2 1130.6 703.2 1137.0 704.0C1143.4 704.8 1161.5 707.0 1166.0 707.5" fill="none" stroke="#e8141c" stroke-width="2.2" stroke-linejoin="round"/>
<g fill="#bdbdbd" stroke="#2a2a2a" stroke-width="1.5"><circle cx="965.5" cy="650.5" r="9.5"/><circle cx="959.0" cy="657.1" r="9.5"/><circle cx="969.3" cy="659.5" r="9.5"/><circle cx="982.4" cy="652.4" r="9.5"/><circle cx="999.2" cy="646.8" r="9.5"/><circle cx="1011.4" cy="650.5" r="9.5"/><circle cx="1014.2" cy="639.3" r="9.5"/><circle cx="1024.5" cy="657.1" r="9.5"/><circle cx="922.3" cy="644.9" r="9.5"/><circle cx="959.5" cy="678.6" r="9.5"/><circle cx="954.3" cy="693.6" r="9.5"/><circle cx="915.9" cy="699.2" r="9.5"/><circle cx="926.8" cy="704.8" r="9.5"/><circle cx="944.6" cy="705.2" r="9.5"/><circle cx="968.3" cy="698.3" r="9.5"/><circle cx="961.8" cy="706.3" r="9.5"/><circle cx="956.2" cy="703.0" r="9.5"/><circle cx="997.3" cy="697.3" r="9.5"/><circle cx="984.6" cy="703.0" r="9.5"/><circle cx="989.9" cy="689.5" r="9.5"/><circle cx="1029.2" cy="680.5" r="9.5"/><circle cx="1015.1" cy="686.1" r="9.5"/><circle cx="1069.0" cy="697.4" r="9.5"/><circle cx="980.1" cy="719.8" r="9.5"/><circle cx="996.4" cy="719.8" r="9.5"/><circle cx="1001.1" cy="718.3" r="9.5"/><circle cx="1007.6" cy="717.0" r="9.5"/><circle cx="1016.1" cy="720.2" r="9.5"/><circle cx="890.9" cy="717.7" r="9.5"/><circle cx="901.0" cy="738.5" r="9.5"/><circle cx="911.2" cy="740.4" r="9.5"/><circle cx="906.0" cy="740.0" r="9.5"/><circle cx="922.8" cy="724.6" r="9.5"/><circle cx="911.6" cy="731.3" r="9.5"/><circle cx="956.5" cy="745.1" r="9.5"/><circle cx="840.0" cy="789.5" r="9.5"/><circle cx="863.8" cy="787.4" r="9.5"/><circle cx="1147.6" cy="713.3" r="9.5"/><circle cx="1176.7" cy="711.4" r="9.5"/></g>
<path d="M768.9 871.3C773.5 870.9 789.5 869.5 798.6 868.9C807.7 868.3 819.1 868.1 828.2 867.4C837.3 866.7 848.7 865.6 857.8 864.5C866.9 863.4 878.4 861.4 887.5 860.0C896.6 858.6 905.7 857.4 917.1 855.6C928.5 853.8 947.9 850.9 961.6 848.2C975.3 845.5 994.6 840.5 1006.0 837.8C1017.4 835.1 1026.0 832.8 1035.7 830.4C1045.4 828.0 1058.0 825.8 1069.1 822.3C1080.2 818.8 1097.5 812.0 1107.9 807.7C1118.3 803.4 1129.0 798.1 1137.0 794.2C1145.0 790.3 1155.6 785.3 1160.2 782.5C1164.8 779.7 1165.5 778.2 1167.0 775.7C1168.5 773.2 1169.4 773.4 1169.9 766.0C1170.4 758.6 1170.4 740.7 1170.3 727.3C1170.2 713.9 1169.5 692.2 1169.0 678.8C1168.5 665.4 1167.5 648.8 1167.0 640.0C1166.5 631.2 1166.0 628.5 1166.0 621.6C1166.0 614.7 1166.7 599.2 1166.8 595.1" fill="none" stroke="#0ea04e" stroke-width="1.8" stroke-linejoin="round" stroke-dasharray="5.8 2.8"/>
<path d="M761.5 860.0C763.1 858.9 770.3 853.7 771.9 852.6C773.3 849.9 776.7 841.6 780.8 834.8C784.9 828.0 792.7 816.4 798.6 808.2C804.5 800.0 812.5 789.3 819.3 781.5C826.1 773.7 837.6 763.1 843.0 757.8C848.4 752.5 849.1 752.3 854.7 747.2C860.3 742.1 872.0 730.9 879.7 724.7C887.4 718.5 897.0 712.2 904.7 707.2C912.4 702.2 923.1 696.3 929.6 692.3C936.1 688.3 939.8 685.5 946.8 681.4C953.8 677.3 966.5 670.0 974.9 665.5C983.3 661.0 992.5 656.4 1001.1 652.4C1009.7 648.4 1023.5 642.5 1031.0 639.3C1038.5 636.1 1046.0 633.5 1049.8 631.8C1053.6 630.1 1054.0 629.5 1055.4 628.1C1056.8 626.7 1055.9 625.1 1059.1 622.5C1062.3 619.9 1070.8 614.8 1076.0 611.2C1081.2 607.6 1088.8 602.0 1092.8 599.0C1096.8 596.0 1099.4 593.2 1102.3 591.4C1105.2 589.6 1106.8 588.0 1111.7 587.2C1116.6 586.4 1129.2 585.8 1134.4 586.0C1139.6 586.2 1142.2 588.0 1145.7 588.5C1149.2 589.0 1155.3 589.0 1157.0 589.1" fill="none" stroke="#4038c8" stroke-width="1.9" stroke-linejoin="round" stroke-dasharray="5.8 2.8"/>
<path d="M761.5 860.0C761.7 857.0 761.9 847.9 763.0 840.8C764.1 833.7 766.6 823.2 768.9 814.1C771.2 805.0 774.6 790.3 777.8 781.5C781.0 772.7 785.6 765.6 789.8 757.2C794.0 748.8 799.8 736.0 804.8 727.2C809.8 718.4 816.5 708.2 822.3 699.8C828.1 691.4 835.8 680.4 842.3 672.3C848.8 664.2 857.4 654.6 864.7 647.3C872.0 640.0 881.6 631.4 889.7 624.9C897.8 618.4 909.0 610.3 917.1 604.9C925.2 599.5 935.9 593.3 942.1 589.9C948.3 586.5 954.8 584.0 957.1 582.9C958.6 582.9 963.6 582.7 967.1 582.9C970.6 583.1 974.5 584.2 979.6 584.4C984.7 584.6 990.7 584.2 1000.0 584.4C1009.3 584.6 1024.6 585.8 1040.0 586.0C1055.4 586.2 1082.0 585.7 1100.0 585.5C1118.0 585.3 1148.2 584.9 1157.0 584.8" fill="none" stroke="#e8141c" stroke-width="2.0" stroke-linejoin="round" stroke-dasharray="5.8 2.8"/>
</g>
<path d="M1064.5 540L1160.8 576.3" stroke="#111" stroke-width="1.8" fill="none"/>
<path d="M1186.4 711.7L1189.5 716.6L1210.3 809.1" stroke="#111" stroke-width="1.8" fill="none"/>
<polygon points="1167.4,569.2 1171.2,578.5 1181.3,579.3 1173.6,585.8 1176.0,595.6 1167.4,590.3 1158.8,595.6 1161.2,585.8 1153.5,579.3 1163.6,578.5" fill="#ffff00" stroke="#111" stroke-width="1.6" stroke-linejoin="miter"/>
<text x="980.4" y="539.2" font-size="25.5" text-anchor="start" textLength="78.5" lengthAdjust="spacingAndGlyphs">AG4-6</text>
<text x="1108.7" y="839.7" font-size="25.5" text-anchor="start" textLength="169.8" lengthAdjust="spacingAndGlyphs">16WJL-110(2)</text>
<text x="1120.8" y="875.0" font-size="25.5" text-anchor="start" textLength="136.1" lengthAdjust="spacingAndGlyphs">TiO<tspan font-size="12.5" font-weight="bold">2</tspan> (wt. %)</text>
<text x="1216.3" y="530.3" font-size="30" text-anchor="start" textLength="39.2" lengthAdjust="spacingAndGlyphs">(d)</text>
<g fill="#bdbdbd" stroke="#2a2a2a" stroke-width="1.5"><circle cx="180.6" cy="1342.5" r="9.5"/><circle cx="204.9" cy="1346.2" r="9.5"/><circle cx="233.9" cy="1365.0" r="9.5"/><circle cx="242.4" cy="1339.1" r="9.5"/><circle cx="245.2" cy="1336.3" r="9.5"/><circle cx="255.1" cy="1348.5" r="9.5"/><circle cx="266.7" cy="1332.6" r="9.5"/><circle cx="254.5" cy="1338.2" r="9.5"/><circle cx="259.2" cy="1327.9" r="9.5"/><circle cx="270.1" cy="1318.2" r="9.5"/><circle cx="299.5" cy="1309.2" r="9.5"/><circle cx="303.2" cy="1281.1" r="9.5"/><circle cx="311.6" cy="1285.8" r="9.5"/><circle cx="306.9" cy="1290.4" r="9.5"/><circle cx="300.4" cy="1297.6" r="9.5"/><circle cx="288.8" cy="1303.2" r="9.5"/><circle cx="310.7" cy="1252.1" r="9.5"/><circle cx="300.4" cy="1264.8" r="9.5"/><circle cx="313.9" cy="1254.5" r="9.5"/><circle cx="324.7" cy="1267.0" r="9.5"/><circle cx="329.4" cy="1263.3" r="9.5"/><circle cx="327.5" cy="1260.5" r="9.5"/><circle cx="345.3" cy="1268.0" r="9.5"/><circle cx="347.2" cy="1257.7" r="9.5"/><circle cx="352.8" cy="1256.8" r="9.5"/><circle cx="356.6" cy="1267.0" r="9.5"/><circle cx="360.3" cy="1260.1" r="9.5"/><circle cx="374.9" cy="1247.0" r="9.5"/><circle cx="342.5" cy="1233.4" r="9.5"/><circle cx="335.0" cy="1230.9" r="9.5"/><circle cx="361.8" cy="1203.4" r="9.5"/><circle cx="362.3" cy="1183.6" r="9.5"/><circle cx="370.5" cy="1138.4" r="9.5"/><circle cx="417.4" cy="1125.2" r="9.5"/><circle cx="498.3" cy="985.7" r="9.5"/><circle cx="528.5" cy="1007.4" r="9.5"/></g>
<text x="69.8" y="996.2" font-size="25.5" text-anchor="start" textLength="101.2" lengthAdjust="spacingAndGlyphs">Ni (µg/g)</text>
<text x="569.8" y="991.2" font-size="30" text-anchor="start" textLength="38.7" lengthAdjust="spacingAndGlyphs">(e)</text>
<text x="257.5" y="1435.7" font-size="25.5" text-anchor="start" textLength="146.0" lengthAdjust="spacingAndGlyphs">MgO (wt. %)</text>
<g fill="#bdbdbd" stroke="#2a2a2a" stroke-width="1.5"><circle cx="828.0" cy="1349.9" r="9.5"/><circle cx="852.3" cy="1354.0" r="9.5"/><circle cx="893.3" cy="1357.0" r="9.5"/><circle cx="901.4" cy="1363.1" r="9.5"/><circle cx="881.7" cy="1360.6" r="9.5"/><circle cx="913.6" cy="1348.5" r="9.5"/><circle cx="907.9" cy="1359.4" r="9.5"/><circle cx="917.6" cy="1329.6" r="9.5"/><circle cx="946.4" cy="1360.0" r="9.5"/><circle cx="957.2" cy="1330.0" r="9.5"/><circle cx="961.6" cy="1322.9" r="9.5"/><circle cx="976.0" cy="1324.1" r="9.5"/><circle cx="951.7" cy="1300.6" r="9.5"/><circle cx="936.3" cy="1300.2" r="9.5"/><circle cx="948.4" cy="1261.3" r="9.5"/><circle cx="972.4" cy="1259.7" r="9.5"/><circle cx="982.9" cy="1266.7" r="9.5"/><circle cx="1009.9" cy="1272.8" r="9.5"/><circle cx="989.6" cy="1243.4" r="9.5"/><circle cx="994.7" cy="1249.5" r="9.5"/><circle cx="1000.8" cy="1242.4" r="9.5"/><circle cx="1008.9" cy="1236.9" r="9.5"/><circle cx="989.0" cy="1199.4" r="9.5"/><circle cx="1022.7" cy="1205.3" r="9.5"/><circle cx="1018.6" cy="1168.0" r="9.5"/><circle cx="1064.9" cy="1125.9" r="9.5"/><circle cx="1146.6" cy="973.4" r="9.5"/><circle cx="1176.3" cy="1008.3" r="9.5"/></g>
<text x="722.4" y="992.2" font-size="25.5" text-anchor="start" textLength="104.6" lengthAdjust="spacingAndGlyphs">Cr (µg/g)</text>
<text x="1216.7" y="999.2" font-size="30" text-anchor="start" textLength="30.3" lengthAdjust="spacingAndGlyphs">(f)</text>
<text x="928.1" y="1435.6" font-size="25.5" text-anchor="start" textLength="145.4" lengthAdjust="spacingAndGlyphs">MgO (wt. %)</text>
</g>
</svg>
</body></html>
